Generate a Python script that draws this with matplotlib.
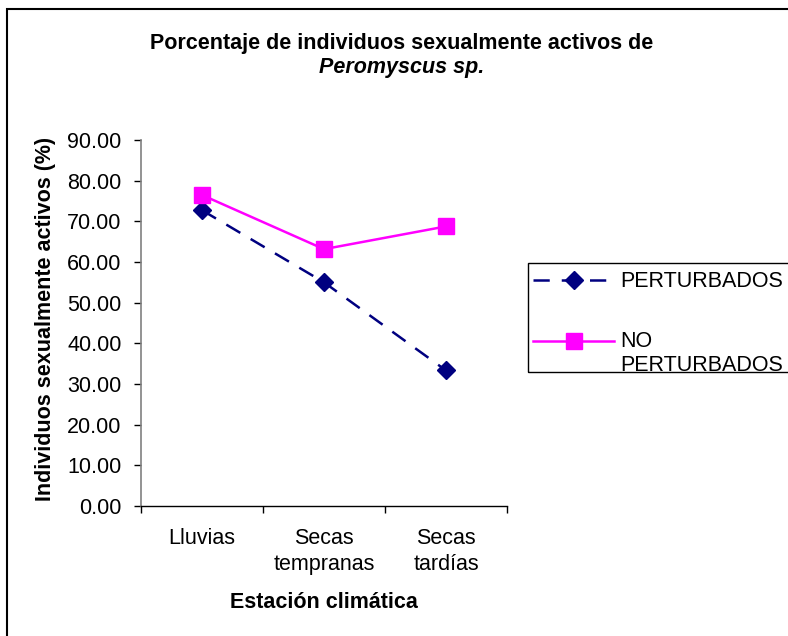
import matplotlib
matplotlib.use("Agg")
import matplotlib.pyplot as plt
from matplotlib.patches import Rectangle
from matplotlib.legend_handler import HandlerLine2D

plt.rcParams['font.family'] = ['Liberation Sans', 'DejaVu Sans']

categories = ["Lluvias", "Secas\ntempranas", "Secas\ntardías"]
perturbados = [72.73, 55.00, 33.33]
no_perturbados = [76.47, 63.16, 68.75]
series_names = ["PERTURBADOS", "NO\nPERTURBADOS"]
yticks = [0, 10, 20, 30, 40, 50, 60, 70, 80, 90]

FS = 15.5
W, H = 788, 636
fig = plt.figure(figsize=(W / 100, H / 100), dpi=100)

# axes placed in pixel coordinates
x0, x1 = 141, 507
y_top, y_bot = 140, 506
ax = fig.add_axes([x0 / W, 1 - y_bot / H, (x1 - x0) / W, (y_bot - y_top) / H])

xs = [0.5, 1.5, 2.5]
ax.plot(xs, perturbados, color="#000080", linestyle=(0, (6.5, 4.8)), linewidth=1.8,
        marker="D", markersize=9, markerfacecolor="#000080", markeredgecolor="#000080",
        label=series_names[0])
ax.plot(xs, no_perturbados, color="#FF00FF", linestyle="-", linewidth=1.8,
        marker="s", markersize=11, markerfacecolor="#FF00FF", markeredgecolor="#FF00FF",
        label=series_names[1])

ax.set_xlim(0, 3)
ax.set_ylim(0, 90)
ax.set_yticks(yticks)
ax.set_yticklabels([f"{v:.2f}" for v in yticks], fontsize=FS)
ax.set_xticks([0, 1, 2, 3])
ax.set_xticklabels([])
ax.set_xticks(xs, minor=True)
ax.set_xticklabels(categories, minor=True, fontsize=FS, linespacing=1.35)
ax.tick_params(axis="x", which="minor", length=0, pad=15.5)
ax.tick_params(axis="x", which="major", direction="out", length=5, width=1, color="black")
ax.tick_params(axis="y", direction="out", length=5, width=1, color="black", pad=9)

for s in ["top", "right"]:
    ax.spines[s].set_visible(False)
ax.spines["left"].set_color("#808080")
ax.spines["left"].set_linewidth(1.2)
ax.spines["bottom"].set_color("black")
ax.spines["bottom"].set_linewidth(1.0)

ax.set_xlabel("Estación climática", fontsize=FS, fontweight="bold", labelpad=12)
ax.set_ylabel("Individuos sexualmente activos (%)", fontsize=FS, fontweight="bold")
ax.yaxis.set_label_coords(46 / W, 1 - 319 / H, transform=fig.transFigure)
ax.yaxis.label.set_va("center")

fig.text(402 / W, 1 - 43 / H, "Porcentaje de individuos sexualmente activos de",
         ha="center", va="center", fontsize=FS, fontweight="bold")
fig.text(402 / W, 1 - 68 / H, "Peromyscus sp.",
         ha="center", va="center", fontsize=FS, fontweight="bold", style="italic")

# outer frame
fig.patches.append(Rectangle((7 / W, -0.05), 1.1, 1.05 - 9.5 / H, transform=fig.transFigure,
                             fill=False, edgecolor="black", linewidth=1.5))

# legend frame
lx0, ly0, ly1 = 528, 263, 372
fig.patches.append(Rectangle((lx0 / W, 1 - ly1 / H), (W + 10 - lx0) / W, (ly1 - ly0) / H,
                             transform=fig.transFigure, fill=False,
                             edgecolor="black", linewidth=1.0))


class TopAlignedHandler(HandlerLine2D):
    """Line handler that sits on the first line of a multi-line label."""
    def __init__(self, shift=0.0, **kw):
        super().__init__(**kw)
        self.shift = shift

    def create_artists(self, legend, orig_handle, xdescent, ydescent,
                       width, height, fontsize, trans):
        return super().create_artists(legend, orig_handle, xdescent,
                                      ydescent - 2 * self.shift, width, height,
                                      fontsize, trans)


handles, labels = ax.get_legend_handles_labels()
leg = fig.legend(handles, labels, loc="upper left", bbox_to_anchor=(528 / W, 1 - 266 / H),
                 frameon=False, fontsize=FS, handlelength=3.75, handletextpad=0.3,
                 labelspacing=1.8, borderpad=0.25, borderaxespad=0,
                 handler_map={handles[1]: TopAlignedHandler(shift=9)})
for t in leg.get_texts():
    t.set_linespacing(1.15)

fig.savefig("out.png", dpi=100)
